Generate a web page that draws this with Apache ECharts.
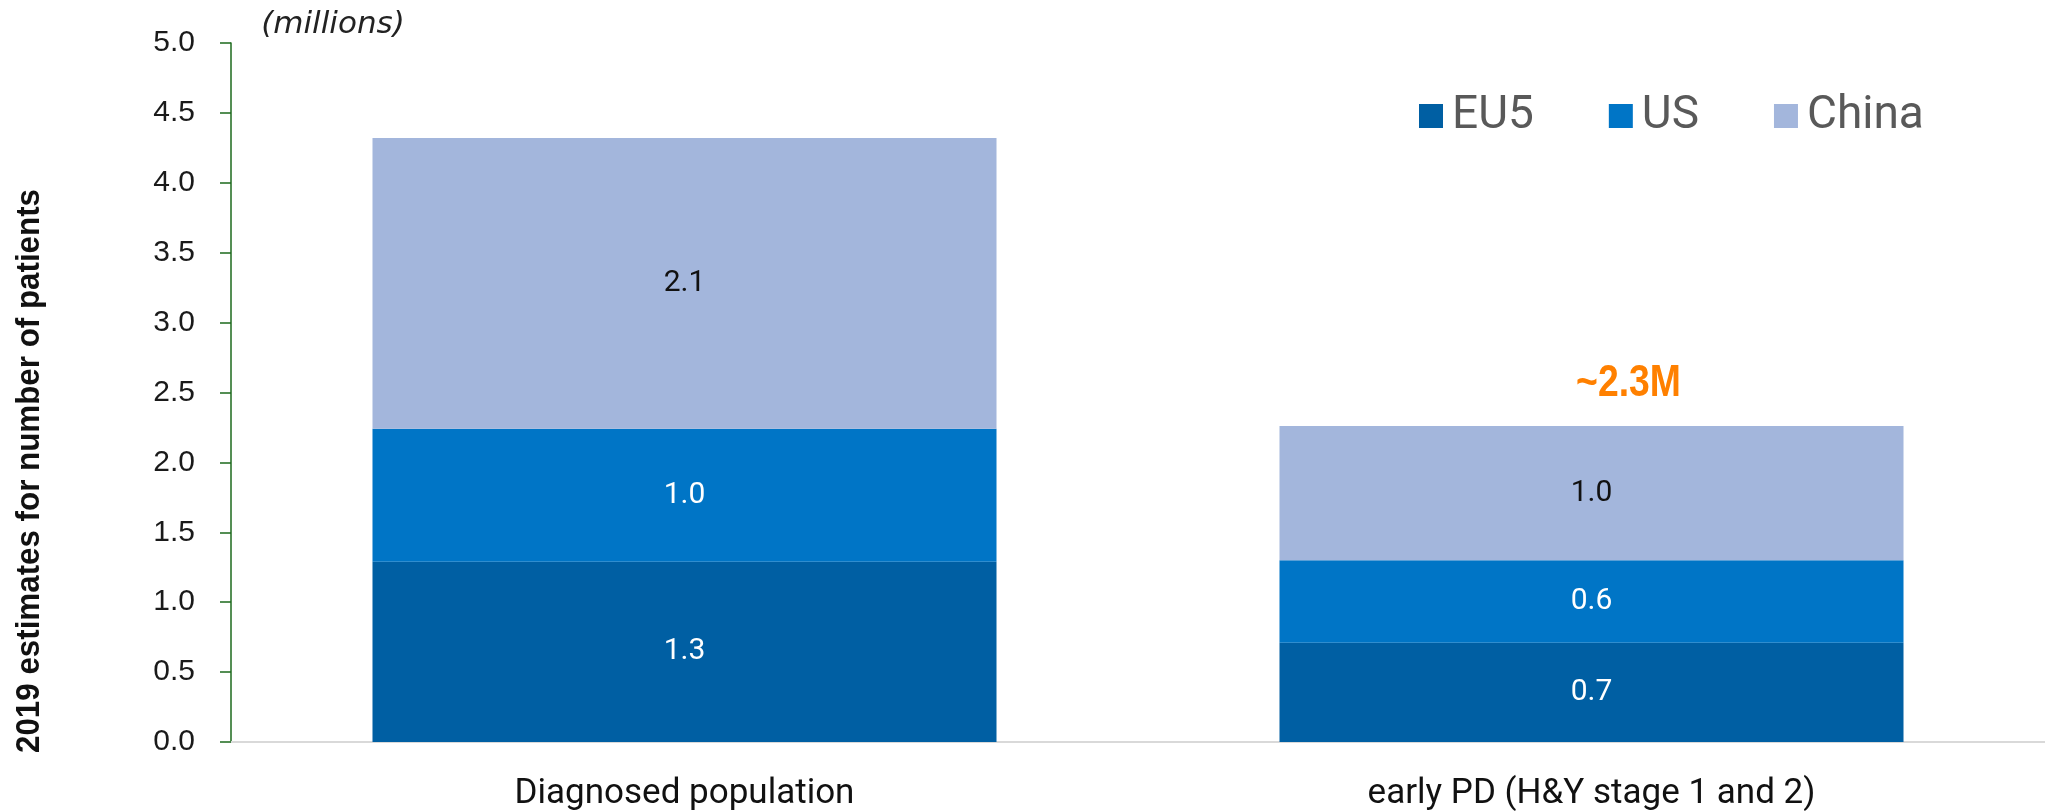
<!DOCTYPE html>
<html>
<head>
<meta charset="utf-8">
<script src="https://cdn.jsdelivr.net/npm/echarts@6/dist/echarts.min.js"></script>
<style>
    html, body { margin: 0; padding: 0; background: #fff; }
    #chart { width: 2045px; height: 812px; }
</style>
</head>
<body>
<div id="chart"></div>
<script>
    // data (millions of patients)
    var categories = ['Diagnosed population', 'early PD (H&Y stage 1 and 2)'];
    var eu5 = [1.29, 0.71];
    var us = [0.95, 0.59];
    var china = [2.08, 0.96];
    var yTicks = [0, 0.5, 1, 1.5, 2, 2.5, 3, 3.5, 4, 4.5, 5];

    var colors = {EU5: '#005fa3', US: '#0075c6', China: '#a3b6dc'};
    var sans = '"Liberation Sans", Arial, sans-serif';

    function oneDecimal(v) {
        return (Math.round(v * 10) / 10).toFixed(1);
    }

    var chart = echarts.init(document.getElementById('chart'));

    function barSeries(name, data, labelColor) {
        return {
            name: name,
            type: 'bar',
            stack: 'total',
            barCategoryGap: '31.2%',
            data: data,
            itemStyle: {color: colors[name]},
            label: {
                show: true,
                position: 'inside',
                color: labelColor,
                fontSize: 30,
                fontFamily: 'Roboto, sans-serif',
                formatter: function (p) { return oneDecimal(p.value); }
            },
            emphasis: {disabled: true}
        };
    }

    chart.setOption({
        animation: false,
        grid: {left: 231, right: -10, top: 43, bottom: 67},
        legend: {
            data: ['EU5', 'US', 'China'],
            left: 1414,
            top: 88,
            itemWidth: 24,
            itemHeight: 24,
            itemGap: 75,
            icon: 'rect',
            textStyle: {
                fontSize: 46,
                fontFamily: 'Roboto, sans-serif',
                color: '#595959',
                padding: [0, 0, 0, 4]
            }
        },
        xAxis: {
            type: 'category',
            data: categories,
            axisLine: {lineStyle: {color: '#d9d9d9', width: 2}},
            axisTick: {show: false},
            axisLabel: {
                fontSize: 35,
                fontFamily: 'Roboto, sans-serif',
                color: '#111',
                margin: 35
            }
        },
        yAxis: {
            type: 'value',
            min: yTicks[0],
            max: yTicks[yTicks.length - 1],
            interval: 0.5,
            splitLine: {show: false},
            axisLine: {show: true, lineStyle: {color: '#1d6a1d', width: 1.5}},
            axisTick: {show: true, length: 11, lineStyle: {color: '#1d6a1d', width: 1.5}},
            axisLabel: {
                fontSize: 30,
                fontFamily: sans,
                color: '#1a1a1a',
                margin: 36,
                formatter: function (v) { return v.toFixed(1); }
            }
        },
        series: [
            barSeries('EU5', eu5, '#fff'),
            barSeries('US', us, '#fff'),
            barSeries('China', china, '#111')
        ]
    });

    // total annotation above the second bar
    var total2 = eu5[1] + us[1] + china[1];
    var topPt = chart.convertToPixel({gridIndex: 0}, [1, total2]);

    chart.setOption({
        graphic: [
            {
                type: 'text',
                x: 30,
                y: 471,
                rotation: Math.PI / 2,
                scaleX: 0.935,
                style: {
                    text: '2019 estimates for number of patients',
                    fontSize: 33.5,
                    fontWeight: 'bold',
                    fontFamily: sans,
                    fill: '#111',
                    align: 'center',
                    verticalAlign: 'middle'
                }
            },
            {
                type: 'text',
                x: 333,
                y: 25,
                style: {
                    text: '(millions)',
                    fontSize: 31,
                    fontStyle: 'italic',
                    fontFamily: '"DejaVu Sans", sans-serif',
                    fill: '#222',
                    align: 'center',
                    verticalAlign: 'middle'
                }
            },
            {
                type: 'text',
                x: topPt[0] + 37,
                y: topPt[1] - 20,
                scaleX: 0.83,
                style: {
                    text: '~' + oneDecimal(total2) + 'M',
                    fontSize: 45,
                    fontWeight: 'bold',
                    fontFamily: sans,
                    fill: '#ff8000',
                    align: 'center',
                    verticalAlign: 'bottom'
                }
            }
        ]
    });
</script>
</body>
</html>
